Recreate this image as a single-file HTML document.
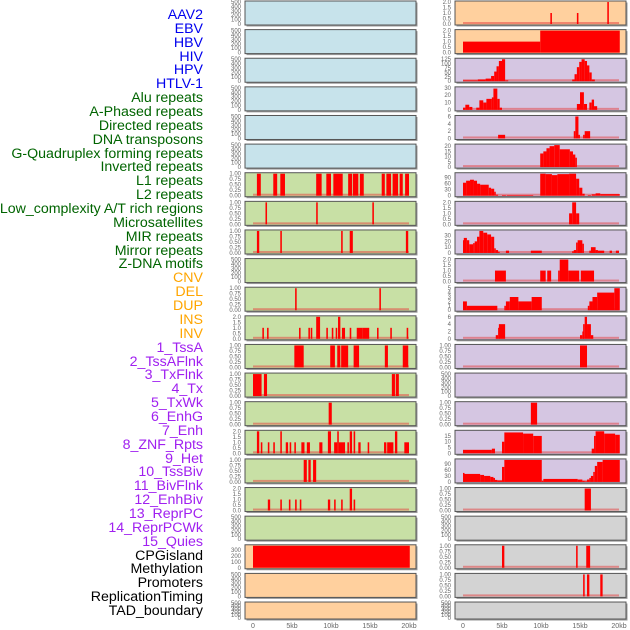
<!DOCTYPE html>
<html><head><meta charset="utf-8"><style>
body{margin:0;background:#fff;width:630px;height:630px;overflow:hidden;font-family:"Liberation Sans",sans-serif}
.lab{position:absolute;right:427px;font-size:14.2px;line-height:14px;white-space:nowrap}
</style></head><body>
<div id="labels"></div>
<svg id="chart" width="630" height="630" style="position:absolute;left:0;top:0"></svg>
<script>
const trackNames=["AAV2","EBV","HBV","HIV","HPV","HTLV-1","Alu repeats","A-Phased repeats","Directed repeats","DNA transposons","G-Quadruplex forming repeats","Inverted repeats","L1 repeats","L2 repeats","Low_complexity A/T rich regions","Microsatellites","MIR repeats","Mirror repeats","Z-DNA motifs","CNV","DEL","DUP","INS","INV","1_TssA","2_TssAFlnk","3_TxFlnk","4_Tx","5_TxWk","6_EnhG","7_Enh","8_ZNF_Rpts","9_Het","10_TssBiv","11_BivFlnk","12_EnhBiv","13_ReprPC","14_ReprPCWk","15_Quies","CPGisland","Methylation","Promoters","ReplicationTiming","TAD_boundary"];
const xTicks=[0,5,10,15,20];
const xTickLabels=["0","5kb","10kb","15kb","20kb"];
const T500=[0,100,200,300,400,500], T1=[0,0.25,0.5,0.75,1], T2=[0,0.5,1,1.5,2];
const L6=[[0.5,1.0,1],[2.6,3.1,1],[3.5,4.1,1],[8.1,8.8,1],[9.4,10.0,1],[10.3,11.5,1],[12.2,12.7,1],[12.8,13.5,1],[13.7,14.2,1],[16.5,16.9,1],[17.1,17.7,1],[17.9,18.6,1],[18.8,19.2,1],[19.5,20.0,1]];
const L7=[[1.6,1.8,1],[8.1,8.3,1],[15.3,15.5,1]];
const L8=[[0.5,0.8,1],[3.5,3.7,1],[11.3,11.5,1],[12.4,12.8,1],[19.6,19.9,1]];
const L10=[[5.4,5.6,1],[16.2,16.4,1]];
const L11=[[1.2,1.4,1],[1.8,2.0,1],[5.9,6.1,1],[7.1,7.3,1],[7.4,7.6,1],[8.1,8.6,2],[9.4,9.6,1],[10.1,10.3,1],[10.6,10.8,1],[10.9,11.2,2],[11.4,11.8,1],[12.4,12.6,1],[13.3,14.0,1],[14.0,14.9,1],[15.9,16.1,1],[17.6,17.8,1],[19.7,19.9,1]];
const L12=[[5.3,6.5,1],[9.9,10.5,1],[10.8,11.2,1],[11.3,12.2,1],[12.9,13.6,1],[16.9,17.3,1],[19.2,19.9,1]];
const L13=[[0,1.1,1],[1.4,1.8,1],[17.8,18.2,1],[18.3,18.7,1]];
const L14=[[9.7,10.1,1]];
const L15=[[0.5,0.8,2],[1.0,1.2,1],[1.9,2.1,1],[2.6,2.8,1],[3.5,3.7,2],[4.2,4.5,1],[4.7,4.9,1],[5.3,5.5,1],[6.2,6.6,1],[6.9,7.3,1],[8.5,8.9,1],[9.6,10.0,2],[10.4,10.8,1],[10.8,11.0,2],[11.0,11.8,1],[12.1,12.3,1],[12.4,12.7,2],[12.9,13.1,2],[13.5,13.8,1],[14.7,14.9,1],[16.8,17.1,1],[17.2,18.0,1],[18.2,18.5,2],[19.4,20.0,1]];
const L16=[[6.5,6.9,1],[7.1,7.4,1],[7.7,8.1,1]];
const L17=[[1.9,2.2,1],[3.5,3.7,1],[4.6,4.8,1],[5.4,5.6,1],[6.0,6.2,1],[9.6,9.9,1],[10.4,10.6,1],[11.3,11.5,1],[12.4,12.7,2],[12.9,13.1,1]];
const L19=[[0,20.1,370]];
const R0=[[11.2,11.4,1],[14.6,14.8,1],[18.5,18.7,2]];
const R1=[[0,9.9,1],[9.9,20.1,2]];
const R2=[[0,1.9,5],[1.9,2.9,10],[2.9,3.6,15],[3.6,4.0,30],[4.0,4.3,55],[4.3,4.6,85],[4.6,5.0,115],[5.0,5.4,125],[5.4,5.8,5],[14.0,14.3,10],[14.3,14.6,40],[14.6,14.9,80],[14.9,15.2,110],[15.2,15.6,125],[15.6,15.9,115],[15.9,16.2,90],[16.2,16.5,50],[16.5,16.9,10]];
const R3=[[0,0.3,3],[0.3,0.8,7],[0.8,1.2,4],[1.7,2.1,3],[2.1,2.6,13],[2.6,3.0,10],[3.0,3.7,15],[3.7,3.9,17],[3.9,4.4,29],[4.4,4.7,15],[4.7,5.0,3],[14.6,15.0,8],[15.0,15.5,24],[15.5,15.9,8],[16.2,16.5,10],[16.5,16.8,14],[16.8,17.2,5]];
const R4=[[4.5,5.4,1],[14.2,14.4,2],[14.4,14.8,6],[14.8,14.9,1],[15.4,15.6,1],[15.6,16.3,2]];
const R5=[[9.9,10.3,13],[10.3,10.7,15],[10.7,11.1,18],[11.1,11.7,20],[11.7,12.4,21],[12.4,13.7,17],[13.7,14.1,15],[14.1,14.4,12],[14.4,14.6,9]];
const R6=[[0,0.4,65],[0.4,0.9,75],[0.9,1.4,80],[1.4,1.8,75],[1.8,2.2,60],[2.2,3.3,55],[3.3,3.6,40],[3.6,4.0,35],[4.0,4.2,20],[4.2,4.5,5],[5.0,5.5,3],[5.6,9.0,3],[9.9,10.6,110],[10.6,11.4,108],[11.4,12.1,103],[12.1,13.6,108],[13.6,14.5,110],[14.5,14.9,85],[14.9,15.3,40],[15.3,15.6,10],[16.0,16.4,3],[16.5,17.0,7],[17.0,17.6,12],[17.6,20.1,8]];
const R7=[[13.6,14.0,1],[14.0,14.5,2],[14.5,14.9,1]];
const R8=[[0,0.1,22],[0.1,0.5,26],[0.5,0.8,22],[0.8,1.3,15],[1.3,1.5,17],[1.5,1.8,20],[1.8,2.1,28],[2.1,2.6,38],[2.6,3.1,35],[3.1,3.6,32],[3.6,4.0,28],[4.0,4.2,8],[4.2,4.5,5],[4.5,4.7,2],[5.5,5.9,4],[8.7,10.1,4],[14.0,14.2,3],[14.2,14.5,5],[14.5,14.7,18],[14.7,15.3,22],[15.3,15.5,16],[16.2,16.4,4],[16.4,17.0,10],[17.0,17.3,5],[17.3,18.1,4],[18.8,19.1,4],[19.6,20.0,4]];
const R9=[[4.1,5.5,1],[9.9,10.6,1],[10.8,11.3,1],[12.2,12.4,1],[12.4,13.5,2],[13.5,14.9,1],[15.1,16.8,1]];
const R10=[[0,0.5,2],[0.5,4.4,1],[5.3,5.5,1],[5.5,6.0,2],[6.0,7.1,3],[7.1,8.8,2],[8.8,10.1,3],[16.0,16.2,1],[16.2,16.6,2],[16.6,17.2,3],[17.2,19.4,4],[19.4,20.1,5]];
const R11=[[4.2,4.5,1],[4.5,4.6,3],[4.6,5.4,4],[15.0,15.3,1],[15.3,15.4,2],[15.4,15.6,4],[15.6,15.9,6],[15.9,16.4,4],[16.4,16.7,1]];
const R12=[[15.0,15.9,1]];
const R14=[[8.7,9.5,1]];
const R15=[[0,3.7,3],[3.7,4.1,4],[5.0,5.3,10],[5.3,7.7,18],[7.7,9.0,17],[9.0,10.1,15],[16.5,16.8,4],[16.8,17.0,15],[17.0,18.1,19],[18.1,19.5,17],[19.5,20.1,16]];
const R16=[[0,0.1,45],[0.1,2.2,40],[2.2,2.7,35],[2.7,3.5,30],[3.5,3.9,25],[3.9,4.1,20],[4.1,4.4,10],[4.4,5.0,7],[5.0,5.3,75],[5.3,10.1,110],[10.1,10.3,5],[10.3,14.7,15],[14.7,15.3,12],[15.3,15.6,5],[15.6,15.9,3],[15.9,16.2,12],[16.2,16.4,20],[16.4,16.7,30],[16.7,16.9,50],[16.9,17.2,80],[17.2,17.9,100],[17.9,20.1,110]];
const R17=[[15.6,16.4,1]];
const R19=[[5.0,5.3,1],[14.5,14.7,1],[15.8,16.3,1]];
const R20=[[15.4,15.6,1],[15.9,16.2,1],[17.6,17.9,1]];

const BL="#c7e3eb",GR="#c8e0a5",OR="#ffd09e",PU="#d5c6e2",GY="#d3d3d3";
const leftPanels=[];
for(let i=0;i<22;i++){leftPanels.push({bg:i<6?BL:(i<19?GR:OR),seg:null,ticks:T500,ymax:500,base:false});}
[[6,L6],[7,L7],[8,L8],[10,L10],[12,L12],[13,L13],[14,L14],[16,L16]].forEach(([i,s])=>{leftPanels[i].seg=s;leftPanels[i].ticks=T1;leftPanels[i].ymax=1;leftPanels[i].base=true;});
[[11,L11],[15,L15],[17,L17]].forEach(([i,s])=>{leftPanels[i].seg=s;leftPanels[i].ticks=T2;leftPanels[i].ymax=2;leftPanels[i].base=true;});
Object.assign(leftPanels[19],{seg:L19,ticks:[0,100,200,300],ymax:370});
const rightPanels=[];
for(let i=0;i<22;i++){rightPanels.push({bg:i<2?OR:(i<17?PU:GY),seg:null,ticks:T500,ymax:500,base:false});}
const rp=(i,s,t,m)=>Object.assign(rightPanels[i],{seg:s,ticks:t,ymax:m,base:true});
rp(0,R0,T2,2);rp(1,R1,T2,2);rp(2,R2,[0,25,50,75,100,125],125);rp(3,R3,[0,10,20,30],30);
rp(4,R4,[0,2,4,6],6);rp(5,R5,[0,5,10,15,20],21);rp(6,R6,[0,30,60,90],110);rp(7,R7,T2,2);
rp(8,R8,[0,10,20,30],38);rp(9,R9,T2,2);rp(10,R10,[0,1,2,3,4,5],5);rp(11,R11,[0,2,4,6],6);
rp(12,R12,T1,1);rp(14,R14,T1,1);rp(15,R15,[0,5,10,15],19);rp(16,R16,[0,30,60,90],110);
rp(17,R17,T1,1);rp(19,R19,T1,1);rp(20,R20,T1,1);

const NS="http://www.w3.org/2000/svg";
const svg=document.getElementById('chart');
function mk(tag,attrs,parent){const e=document.createElementNS(NS,tag);for(const k in attrs)e.setAttribute(k,attrs[k]);(parent||svg).appendChild(e);return e;}
const PX=7.8;
function fmt(v,t){const m=Math.max(...t);if(m===1)return v.toFixed(2);if(m===2)return v.toFixed(1);return String(v);}
function drawPanel(p,i,col){
  const left=col===0?245:455, x0=col===0?253:463;
  const top=1+28.62*i, h=i===21?17:24;
  const g=mk('g',{});
  
  
  mk('rect',{x:left+1.5,y:top+1.5,width:171,height:h,fill:'#999'},g);
  const r=mk('rect',{x:left,y:top,width:171,height:h,fill:p.bg,stroke:'#555','stroke-width':1},g);
  
  
  const y0=top+h-1, ph=h-2;
  const ys=v=>y0-v/p.ymax*ph;
  const xs=k=>x0+k*PX;
  p.ticks.forEach(t=>{const tx=mk('text',{x:left-4,y:ys(t)+2,'font-size':6,fill:'#666','text-anchor':'end','font-family':'Liberation Sans'},g);tx.textContent=fmt(t,p.ticks);
    
    });
  if(p.base){const b=mk('rect',{x:xs(0),y:y0-2,width:xs(20)-xs(0),height:2,fill:'rgba(230,60,60,0.5)'},g);
    
    }
  if(p.seg)p.seg.forEach(s=>{const b=mk('rect',{x:xs(s[0]),y:ys(s[2]),width:Math.max(1.5,xs(s[1])-xs(s[0])),height:y0-ys(s[2]),fill:'#ff0000'},g);
    
    });
}
leftPanels.forEach((p,i)=>drawPanel(p,i,0));
rightPanels.forEach((p,i)=>drawPanel(p,i,1));
[253,463].forEach(x0=>xTicks.forEach((k,j)=>{const t=mk('text',{x:x0+k*PX,y:628,'font-size':7,fill:'#666','text-anchor':'middle','font-family':'Liberation Sans'});t.textContent=xTickLabels[j];
  
  }));
const labDiv=document.getElementById('labels');
trackNames.forEach((n,i)=>{
  const d=document.createElement('div');d.className='lab';
  
  
  d.style.top=(8+i*13.86)+'px';
  d.style.color=i<6?'#0000ee':(i<19?'#006400':(i<24?'#ffa500':(i<39?'#a020f0':'#000')));
  d.textContent=n;labDiv.appendChild(d);
});
</script>
</body></html>
